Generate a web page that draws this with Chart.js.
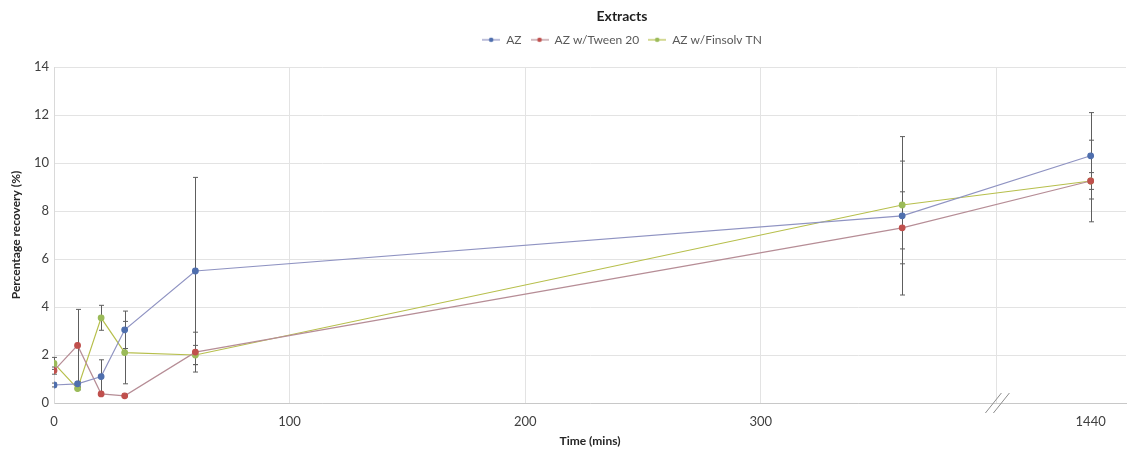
<!DOCTYPE html>
<html>
<head>
<meta charset="utf-8">
<script src="https://cdn.jsdelivr.net/npm/chart.js@4"></script>
<style>
  html, body { margin: 0; padding: 0; background: #fff; }
  #wrap { width: 1130px; height: 451px; }
</style>
</head>
<body>
<div id="wrap"><canvas id="extractsChart"></canvas></div>
<script>
// Sampling times (mins) and mean recovery (%) per formulation
const times = [0, 10, 20, 30, 60, 360, 1440];
const azValues = [0.75, 0.8, 1.1, 3.05, 5.5, 7.8, 10.3];
const tweenValues = [1.35, 2.4, 0.38, 0.3, 2.12, 7.3, 9.25];
const finsolvValues = [1.65, 0.6, 3.55, 2.1, 2.0, 8.25, 9.25];

// Standard deviations (error bars)
const azErrors = [0.08, 0.1, 0.7, 0.78, 3.9, 3.3, 1.8];
const tweenErrors = [0.15, 1.5, 0.05, 0.04, 0.83, 1.5, 1.7];
const finsolvErrors = [0.25, 0.05, 0.52, 1.3, 0.4, 1.83, 0.35];

const seriesNames = ['AZ', 'AZ w/Tween 20', 'AZ w/Finsolv TN'];
const xTickValues = [0, 100, 200, 300, 400];
const yTickStep = 2;

// Axis is broken after 400 mins; the 24 h sample sits just past the break
const BREAK_AT = 400;
const FAR_TIME = 1440;
const FAR_POS = 440;
const axisPos = t => (t === FAR_TIME ? FAR_POS : t);

const FONT = 'Lato, "Liberation Sans", sans-serif';

function toPoints(values, errors) {
    return times.map((t, i) => ({ x: axisPos(t), y: values[i], err: errors[i] }));
}

// little "—•—" swatch for the legend
function legendSwatch(lineColor, dotColor) {
    const c = document.createElement('canvas');
    c.width = 18; c.height = 8;
    const g = c.getContext('2d');
    g.strokeStyle = lineColor;
    g.lineWidth = 1.2;
    g.beginPath(); g.moveTo(0, 4); g.lineTo(18, 4); g.stroke();
    g.fillStyle = dotColor;
    g.beginPath(); g.arc(9, 4, 2.3, 0, Math.PI * 2); g.fill();
    return c;
}

function makeSeries(label, values, errors, lineColor, dotColor) {
    return {
        label: label,
        data: toPoints(values, errors),
        borderColor: lineColor,
        backgroundColor: dotColor,
        pointBorderColor: dotColor,
        pointBackgroundColor: dotColor,
        pointRadius: 2.8,
        pointHoverRadius: 2.8,
        borderWidth: 1.2,
        tension: 0,
        swatch: legendSwatch(lineColor, dotColor)
    };
}

const errorBars = {
    id: 'errorBars',
    beforeDatasetsDraw(chart) {
        const { ctx, scales: { x, y } } = chart;
        ctx.save();
        ctx.strokeStyle = '#5e5e5e';
        ctx.lineWidth = 1;
        chart.data.datasets.forEach(ds => {
            ds.data.forEach(p => {
                const px = Math.round(x.getPixelForValue(p.x)) + 0.5;
                const top = y.getPixelForValue(p.y + p.err);
                const bot = y.getPixelForValue(p.y - p.err);
                ctx.beginPath();
                ctx.moveTo(px, top); ctx.lineTo(px, bot);
                ctx.moveTo(px - 2.5, top); ctx.lineTo(px + 2.5, top);
                ctx.moveTo(px - 2.5, bot); ctx.lineTo(px + 2.5, bot);
                ctx.stroke();
            });
        });
        ctx.restore();
    }
};

const axisBreak = {
    id: 'axisBreak',
    afterDraw(chart) {
        const { ctx, scales: { x, y } } = chart;
        const bx = x.getPixelForValue(BREAK_AT);
        const by = y.getPixelForValue(0);
        ctx.save();
        ctx.strokeStyle = '#8c8c8c';
        ctx.lineWidth = 1;
        ctx.beginPath();
        ctx.moveTo(bx - 11, by + 10); ctx.lineTo(bx + 5, by - 10);
        ctx.moveTo(bx - 3, by + 10); ctx.lineTo(bx + 13, by - 10);
        ctx.stroke();
        ctx.restore();
    }
};

// title + legend sit a bit right of the canvas centre
const headerShift = {
    id: 'headerShift',
    afterLayout(chart) {
        [chart.titleBlock, chart.legend].forEach(b => {
            if (b) { b.left += 58; b.right += 58; }
        });
    }
};

new Chart(document.getElementById('extractsChart'), {
    type: 'line',
    data: {
        datasets: [
            makeSeries(seriesNames[0], azValues, azErrors, '#8f93c2', '#4f6fae'),
            makeSeries(seriesNames[1], tweenValues, tweenErrors, '#b68d96', '#c0504d'),
            makeSeries(seriesNames[2], finsolvValues, finsolvErrors, '#b7bf4c', '#9bbb59')
        ]
    },
    plugins: [errorBars, axisBreak, headerShift],
    options: {
        responsive: true,
        maintainAspectRatio: false,
        animation: false,
        layout: { padding: { left: 0, right: 2, top: 0, bottom: 0 } },
        plugins: {
            title: {
                display: true,
                text: 'Extracts',
                color: '#1f1f1f',
                font: { family: FONT, size: 14, weight: 'bold' },
                padding: { top: 8, bottom: 0 }
            },
            // empty spacer between the legend and the plot
            subtitle: {
                display: true,
                text: '',
                weight: 500,
                font: { size: 1 },
                padding: { top: 10, bottom: 0 }
            },
            legend: {
                display: true,
                labels: {
                    color: '#595959',
                    font: { family: FONT, size: 12 },
                    usePointStyle: true,
                    pointStyleWidth: 18,
                    padding: 9,
                    generateLabels(chart) {
                        return chart.data.datasets.map((ds, i) => ({
                            text: ds.label,
                            pointStyle: ds.swatch,
                            fillStyle: ds.backgroundColor,
                            strokeStyle: ds.borderColor,
                            lineWidth: 0,
                            fontColor: '#595959',
                            hidden: false,
                            datasetIndex: i
                        }));
                    }
                }
            },
            tooltip: { enabled: false }
        },
        scales: {
            x: {
                type: 'linear',
                min: 0,
                max: 455,
                afterBuildTicks(scale) {
                    scale.ticks = xTickValues.concat([FAR_POS]).map(v => ({ value: v }));
                },
                afterFit(scale) { scale.height = 48; },
                grid: {
                    drawTicks: false,
                    color: c => (c.tick && (c.tick.value === 0 || c.tick.value === FAR_POS)) ? 'rgba(0,0,0,0)' : '#e3e3e3'
                },
                border: { color: '#c8c8c8' },
                ticks: {
                    padding: 11,
                    color: '#404040',
                    font: { family: FONT, size: 13 },
                    autoSkip: false,
                    maxRotation: 0,
                    callback: v => (v === FAR_POS ? String(FAR_TIME) : (v === BREAK_AT ? '' : v))
                },
                title: {
                    display: true,
                    text: 'Time (mins)',
                    color: '#262626',
                    font: { family: FONT, size: 12, weight: 'bold' },
                    padding: { top: 0, bottom: 3 }
                }
            },
            y: {
                min: 0,
                max: 14,
                afterFit(scale) { scale.width = 54; },
                grid: {
                    drawTicks: false,
                    color: '#e3e3e3'
                },
                border: { color: '#d9d9d9' },
                ticks: {
                    stepSize: yTickStep,
                    padding: 5,
                    color: '#404040',
                    font: { family: FONT, size: 13 }
                },
                title: {
                    display: true,
                    text: 'Percentage recovery (%)',
                    color: '#262626',
                    font: { family: FONT, size: 12, weight: 'bold' },
                    padding: { top: 9, bottom: 0 }
                }
            }
        }
    }
});
</script>
</body>
</html>
